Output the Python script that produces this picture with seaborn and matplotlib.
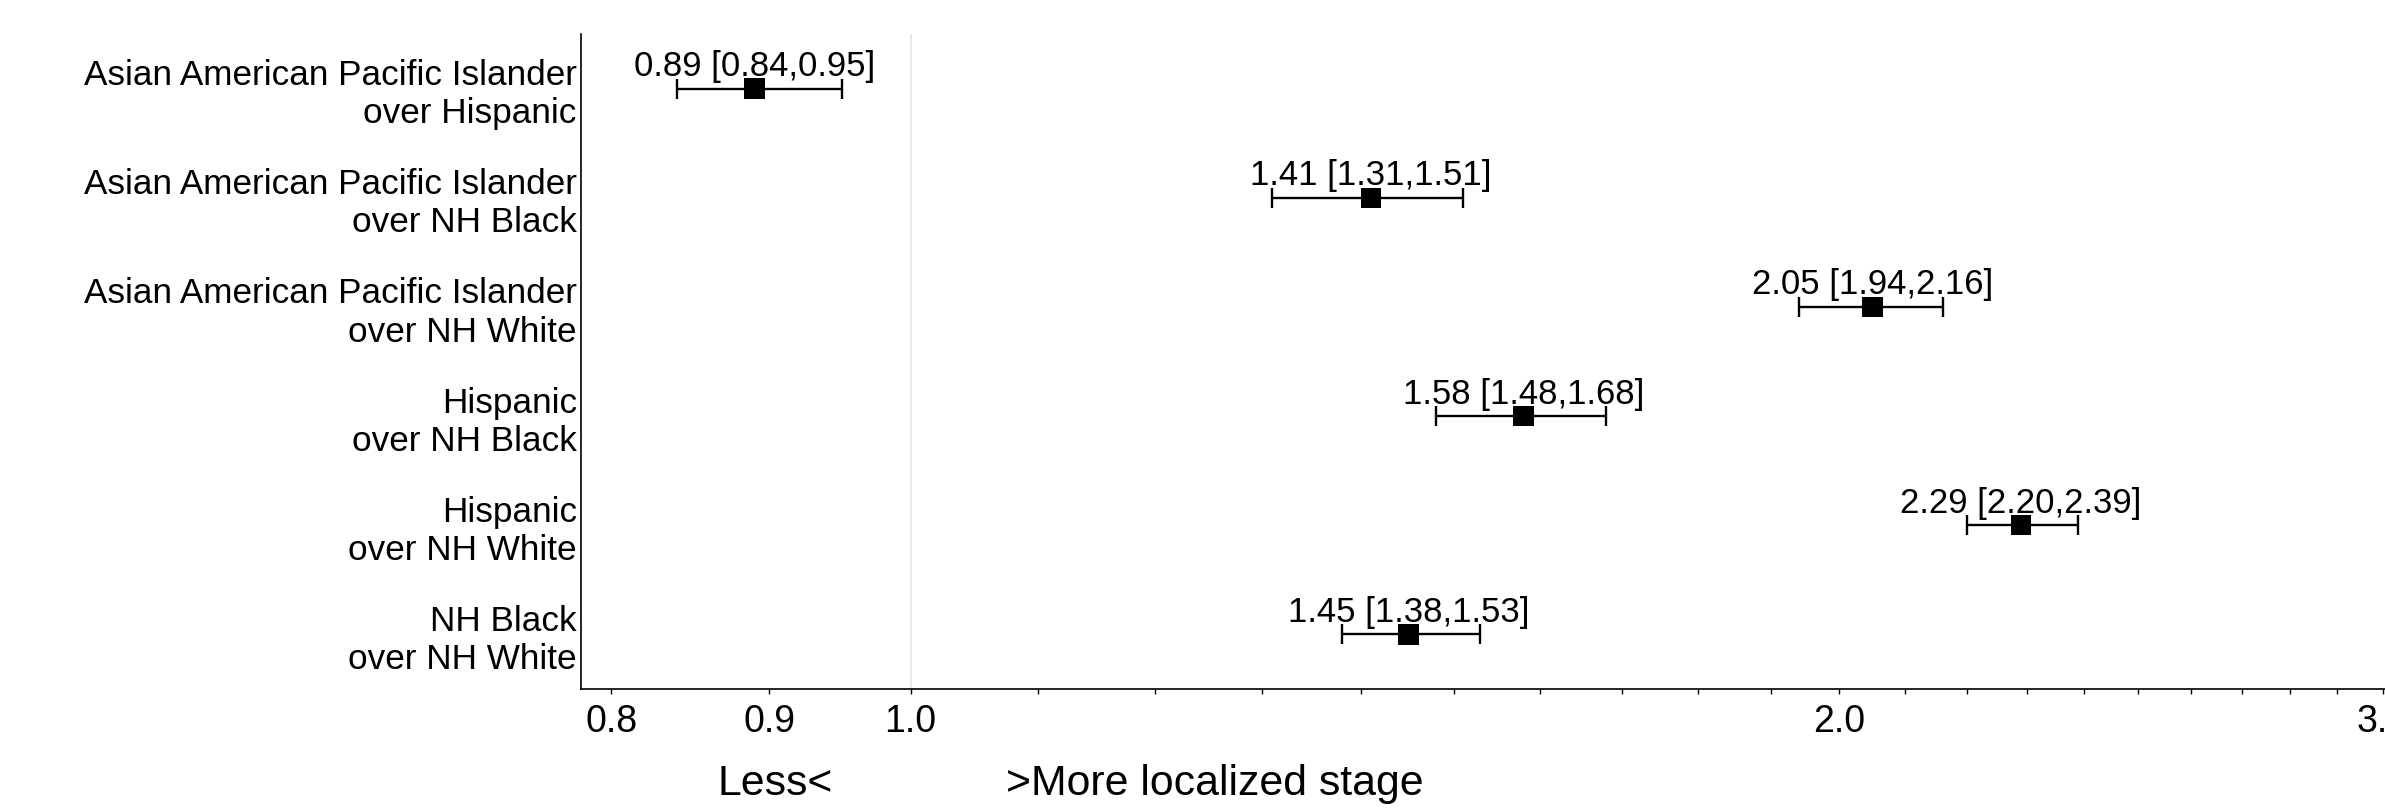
import numpy as np
import pandas as pd
import matplotlib
matplotlib.use("Agg")
import matplotlib.pyplot as plt
import matplotlib.ticker as mticker
import seaborn as sns

# odds ratios with 95% CI, top row first
comparisons = [
    "Asian American Pacific Islander\nover Hispanic",
    "Asian American Pacific Islander\nover NH Black",
    "Asian American Pacific Islander\nover NH White",
    "Hispanic\nover NH Black",
    "Hispanic\nover NH White",
    "NH Black\nover NH White",
]
odds_ratio = [0.89, 1.41, 2.05, 1.58, 2.29, 1.45]
ci_low = [0.84, 1.31, 1.94, 1.48, 2.20, 1.38]
ci_high = [0.95, 1.51, 2.16, 1.68, 2.39, 1.53]

tick_values = [round(0.8 + 0.1 * i, 1) for i in range(23)]
tick_labels = {0.8: "0.8", 0.9: "0.9", 1.0: "1.0", 2.0: "2.0", 3.0: "3.0"}

df = pd.DataFrame({
    "comparison": comparisons,
    "or": odds_ratio,
    "lo": ci_low,
    "hi": ci_high,
})
df["row"] = np.arange(len(df))

sns.set_style("white")
plt.rcParams["font.family"] = ["Liberation Sans", "DejaVu Sans"]
plt.rcParams["text.color"] = "black"
plt.rcParams["xtick.color"] = "black"
plt.rcParams["ytick.color"] = "black"
plt.rcParams["axes.labelcolor"] = "black"

fig = plt.figure(figsize=(23.85, 8.1), dpi=100)
ax = fig.add_axes([0.2436, 0.1494, 0.7564, 0.8086])

ax.axvline(1.0, color="#e4e4e4", lw=1.2, zorder=0)

ax.errorbar(df["or"], df["row"],
            xerr=[df["or"] - df["lo"], df["hi"] - df["or"]],
            fmt="none", ecolor="black", elinewidth=1.7,
            capsize=7, capthick=1.7, zorder=2)
sns.scatterplot(data=df, x="or", y="row", marker="s", s=215,
                color="black", edgecolor="none", ax=ax, zorder=3,
                legend=False)

for _, r in df.iterrows():
    ax.annotate(f"{r['or']:.2f} [{r['lo']:.2f},{r['hi']:.2f}]",
                xy=(r["or"], r["row"]), xytext=(0, 9),
                textcoords="offset points", ha="center", va="baseline",
                fontsize=25)

ax.set_xscale("log")
ax.set_xlim(0.782, 3.005)
ax.set_ylim(len(df) - 0.5, -0.5)

ax.xaxis.set_major_locator(mticker.FixedLocator(tick_values))
ax.xaxis.set_major_formatter(mticker.FixedFormatter(
    [tick_labels.get(v, "") for v in tick_values]))
ax.xaxis.set_minor_locator(mticker.NullLocator())
ax.tick_params(axis="x", length=3.5, width=1, pad=7, labelsize=27,
               bottom=True, direction="out", colors="black")

ax.set_yticks(df["row"])
ax.set_yticklabels(df["comparison"], fontsize=25.3, ha="right")
ax.tick_params(axis="y", length=0, pad=3, colors="black")

for side in ["top", "right"]:
    ax.spines[side].set_visible(False)
for side in ["left", "bottom"]:
    ax.spines[side].set_color("black")
    ax.spines[side].set_linewidth(1.2)

ax.set_xlabel("")
ax.set_ylabel("")

# direction hint under the axis
ax.text(0.0754, -0.162, "Less<", transform=ax.transAxes,
        ha="left", va="baseline", fontsize=30.8)
ax.text(0.2356, -0.162, ">More localized stage", transform=ax.transAxes,
        ha="left", va="baseline", fontsize=30.8)

fig.savefig("out.png", dpi=100)
